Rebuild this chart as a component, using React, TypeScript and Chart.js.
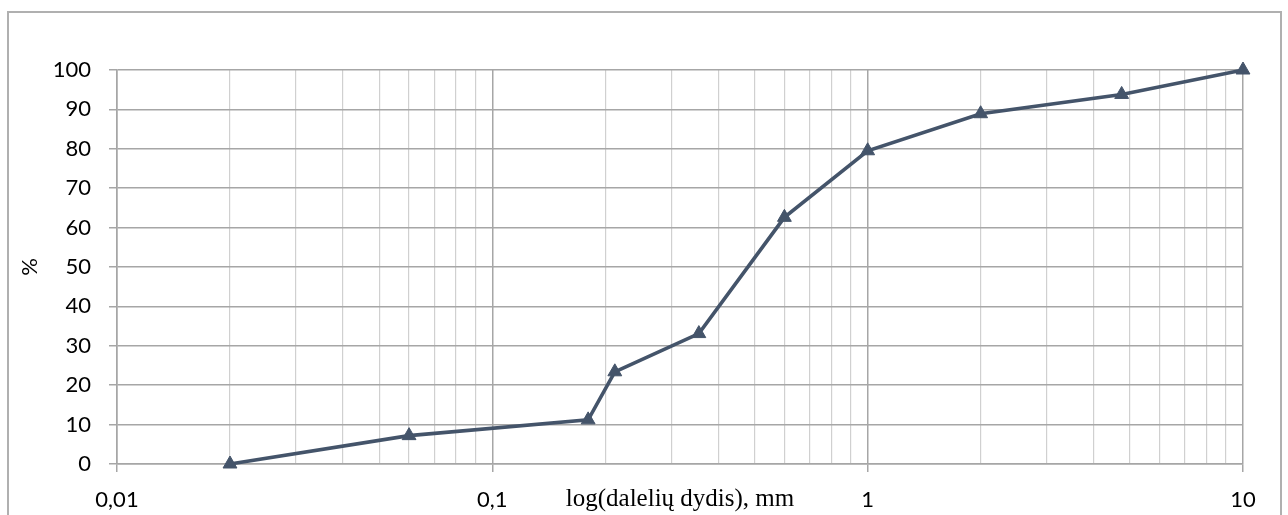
import { useEffect, useRef } from "react";
import { Chart, registerables } from "chart.js";

Chart.register(...registerables);

const particleSizes = [0.02, 0.06, 0.18, 0.212, 0.355, 0.6, 1, 2, 4.75, 10];
const passingPercent = [0, 7.2, 11.2, 23.4, 33.1, 62.6, 79.5, 88.9, 93.8, 100];

const xGridValues = [
  0.01, 0.02, 0.03, 0.04, 0.05, 0.06, 0.07, 0.08, 0.09,
  0.1, 0.2, 0.3, 0.4, 0.5, 0.6, 0.7, 0.8, 0.9,
  1, 2, 3, 4, 5, 6, 7, 8, 9,
  10,
];
const xMajorValues = [0.01, 0.1, 1, 10];
const xMajorLabels = ["0,01", "0,1", "1", "10"];
const yTickValues = [0, 10, 20, 30, 40, 50, 60, 70, 80, 90, 100];

const xTitle = "log(dalelių dydis), mm";
const yTitle = "%";

const LINE_COLOR = "#44546A";
const GRID_MAJOR = "#a6a6a6";
const GRID_MINOR = "#d0d0d0";

const frame = {
  id: "frame",
  afterDraw(chart: any) {
    const ctx = chart.ctx;
    ctx.save();
    ctx.strokeStyle = "#b0b0b0";
    ctx.lineWidth = 2;
    ctx.strokeRect(8, 12, 1273, 600);
    ctx.restore();
  },
};

export default function App() {
  const ref = useRef<HTMLCanvasElement | null>(null);

  useEffect(() => {
    if (!ref.current) return;
    const isMajor = (v: number) => xMajorValues.indexOf(v) >= 0;
    const chart = new Chart(ref.current, {
      type: "line",
      data: {
        datasets: [
          {
            data: particleSizes.map((x, i) => ({ x, y: passingPercent[i] })),
            borderColor: LINE_COLOR,
            backgroundColor: LINE_COLOR,
            borderWidth: 3.6,
            pointStyle: "triangle",
            pointRadius: 8,
            pointHoverRadius: 8,
            pointBorderWidth: 1,
            pointBackgroundColor: LINE_COLOR,
            pointBorderColor: LINE_COLOR,
            tension: 0,
            clip: false,
          } as any,
        ],
      },
      options: {
        responsive: false,
        animation: false,
        events: [],
        layout: { padding: { left: 0, top: 70, right: 45, bottom: 0 } },
        plugins: {
          legend: { display: false },
          tooltip: { enabled: false },
        },
        scales: {
          x: {
            type: "logarithmic",
            min: 0.01,
            max: 10,
            afterBuildTicks: (s: any) => {
              s.ticks = xGridValues.map((v) => ({ value: v, major: isMajor(v) }));
            },
            afterFit: (s: any) => {
              s.height = 51;
            },
            ticks: {
              autoSkip: false,
              maxRotation: 0,
              minRotation: 0,
              padding: 15,
              color: "#000",
              font: { family: "Lato", size: 22 },
              callback: (v: any) => {
                const i = xMajorValues.indexOf(Number(v));
                return i >= 0 ? xMajorLabels[i] : "";
              },
            },
            grid: {
              color: (c: any) => (c.tick && isMajor(c.tick.value) ? GRID_MAJOR : GRID_MINOR),
              lineWidth: (c: any) => (c.tick && isMajor(c.tick.value) ? 1.5 : 1.2),
              tickColor: (c: any) => (c.tick && isMajor(c.tick.value) ? GRID_MAJOR : "rgba(0,0,0,0)"),
              tickLength: 8,
            },
            border: { display: true, color: GRID_MAJOR, width: 1.5 },
            title: {
              display: true,
              text: xTitle,
              color: "#000",
              font: { family: "Liberation Serif", size: 25 },
              padding: { top: 0, bottom: 1 },
            },
          } as any,
          y: {
            type: "linear",
            min: 0,
            max: 100,
            afterBuildTicks: (s: any) => {
              s.ticks = yTickValues.map((v) => ({ value: v }));
            },
            afterFit: (s: any) => {
              s.width = 117;
            },
            ticks: {
              padding: 18,
              color: "#000",
              font: { family: "Lato", size: 22 },
            },
            grid: {
              color: GRID_MAJOR,
              lineWidth: 1.5,
              tickColor: GRID_MAJOR,
              tickLength: 8,
            },
            border: { display: true, color: GRID_MAJOR, width: 1.5 },
            title: {
              display: true,
              text: yTitle,
              color: "#000",
              font: { family: "Lato", size: 22 },
              padding: { top: 17, bottom: 0 },
            },
          } as any,
        },
      },
      plugins: [frame],
    });
    return () => chart.destroy();
  }, []);

  return (
    <div style={{ position: "absolute", left: 0, top: 0, width: 1288, height: 515, background: "#fff" }}>
      <canvas ref={ref} width={1288} height={515} style={{ display: "block" }} />
    </div>
  );
}
